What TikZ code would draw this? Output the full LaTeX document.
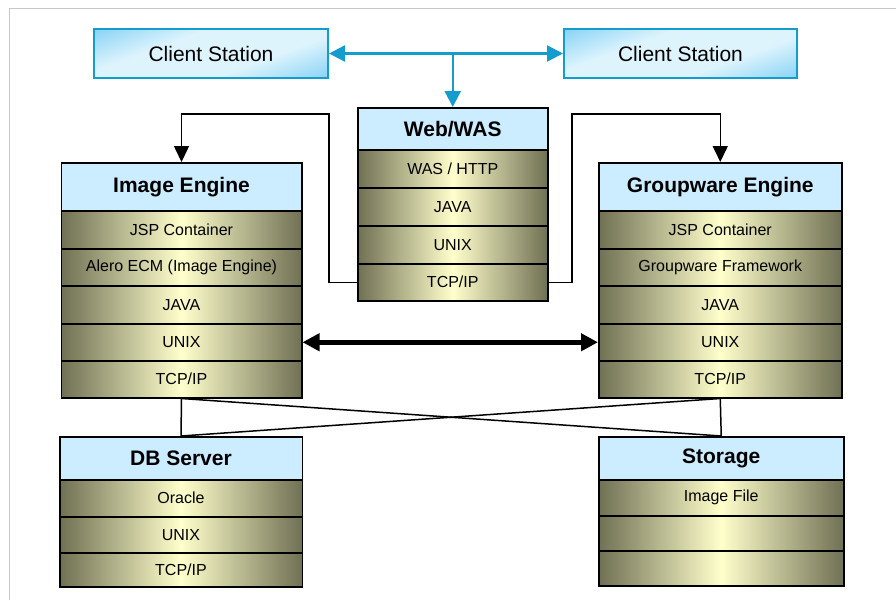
\documentclass[tikz,border=0pt]{standalone}
\usepackage{fontspec}
\setmainfont{Liberation Sans}
\usetikzlibrary{arrows.meta}

\definecolor{headblue}{RGB}{204,236,255}
\definecolor{olivedark}{RGB}{112,112,84}
\definecolor{paleyellow}{RGB}{255,255,204}
\definecolor{clientdark}{RGB}{60,182,238}
\definecolor{clientlight}{RGB}{222,244,253}
\definecolor{clientline}{RGB}{20,156,207}
\definecolor{framegray}{RGB}{200,200,200}

\pgfdeclarehorizontalshading{clientshade}{100bp}{color(0bp)=(clientdark); color(38bp)=(clientlight);
  color(62bp)=(clientlight); color(100bp)=(clientdark)}

\tikzset{
  client/.style={draw=clientline, line width=2pt, shading=clientshade, shading angle=-70,
    anchor=north west, inner sep=0pt, font=\fontsize{21}{24}\selectfont},
  head/.style={draw, line width=1.5pt, fill=headblue, anchor=north west, inner sep=0pt,
    font=\fontsize{21}{24}\selectfont\bfseries},
  layer/.style={draw, line width=1.5pt, left color=olivedark, right color=olivedark,
    middle color=paleyellow, anchor=north west, inner sep=0pt,
    font=\fontsize{16}{19}\selectfont},
  bluearrow/.style={draw=clientline, line width=2.4pt, arrows={-Triangle[length=16pt,width=16pt]}},
  link/.style={line width=1.5pt, arrows={-Triangle[length=16pt,width=15pt]}},
}

\begin{document}
\begin{tikzpicture}[x=1pt,y=-1pt]
\useasboundingbox (0,0) rectangle (896,600);
\draw [framegray, line width=1.5pt] (9.5,600) -- (9.5,8.5) -- (896,8.5);

% clients
\node [client, minimum width=234pt, minimum height=49pt] (cl) at (93,28) {Client Station};
\node [client, minimum width=233pt, minimum height=49pt] (cr) at (563,28) {Client Station};

% web/was
\node [head, minimum width=190pt, minimum height=42pt] (ww0) at (357,107) {Web/WAS};
\node [layer, minimum width=190pt, minimum height=38pt] (ww1) at (357,149) {WAS / HTTP};
\node [layer, minimum width=190pt, minimum height=38pt] (ww2) at (357,187) {JAVA};
\node [layer, minimum width=190pt, minimum height=38pt] (ww3) at (357,225) {UNIX};
\node [layer, minimum width=190pt, minimum height=37pt] (ww4) at (357,263) {TCP/IP};

% image engine
\node [head, minimum width=240.5pt, minimum height=48pt] (ie0) at (60.5,162) {Image Engine};
\node [layer, minimum width=240.5pt, minimum height=38pt] (ie1) at (60.5,210) {JSP Container};
\node [layer, minimum width=240.5pt, minimum height=37pt] (ie2) at (60.5,248) {Alero ECM (Image Engine)};
\node [layer, minimum width=240.5pt, minimum height=38pt] (ie3) at (60.5,285) {JAVA};
\node [layer, minimum width=240.5pt, minimum height=37pt] (ie4) at (60.5,323) {UNIX};
\node [layer, minimum width=240.5pt, minimum height=37pt] (ie5) at (60.5,360) {TCP/IP};

% groupware engine
\node [head, minimum width=243pt, minimum height=48pt] (gw0) at (598,162) {Groupware Engine};
\node [layer, minimum width=243pt, minimum height=38pt] (gw1) at (598,210) {JSP Container};
\node [layer, minimum width=243pt, minimum height=37pt] (gw2) at (598,248) {Groupware Framework};
\node [layer, minimum width=243pt, minimum height=38pt] (gw3) at (598,285) {JAVA};
\node [layer, minimum width=243pt, minimum height=37pt] (gw4) at (598,323) {UNIX};
\node [layer, minimum width=243pt, minimum height=37pt] (gw5) at (598,360) {TCP/IP};

% db server
\node [head, minimum width=242.5pt, minimum height=43pt] (db0) at (59,436) {DB Server};
\node [layer, minimum width=242.5pt, minimum height=37pt] (db1) at (59,479) {Oracle};
\node [layer, minimum width=242.5pt, minimum height=36pt] (db2) at (59,516) {UNIX};
\node [layer, minimum width=242.5pt, minimum height=34pt] (db3) at (59,552) {TCP/IP};

% storage
\node [head, minimum width=245pt, minimum height=43pt] (st0) at (598,436) {Storage};
\node [layer, minimum width=245pt, minimum height=36pt] (st1) at (598,479) {Image File};
\node [layer, minimum width=245pt, minimum height=35pt] (st2) at (598,515) {};
\node [layer, minimum width=245pt, minimum height=35pt] (st3) at (598,550) {};

% links
\draw [bluearrow, {Triangle[length=16pt,width=16pt]}-{Triangle[length=16pt,width=16pt]}] (cl.east) -- (cr.west);
\draw [bluearrow] (ww0.north |- cl.east) -- (ww0.north);
\coordinate (lbend) at (329,114);
\coordinate (rbend) at (572,114);
\draw [link] (ww4.west) -| (lbend) -| (ie0.north);
\draw [link] (ww4.east) -| (rbend) -| (gw0.north);
\draw [line width=5pt, {Triangle[length=17pt,width=17pt]}-{Triangle[length=17pt,width=17pt]}] (ie4.east) -- (gw4.west);
\draw [line width=1.5pt] (ie5.south) -- (db0.north);
\draw [line width=1.5pt] (ie5.south) -- (st0.north);
\draw [line width=1.5pt] (gw5.south) -- (st0.north);
\draw [line width=1.5pt] (gw5.south) -- (db0.north);
\end{tikzpicture}
\end{document}
